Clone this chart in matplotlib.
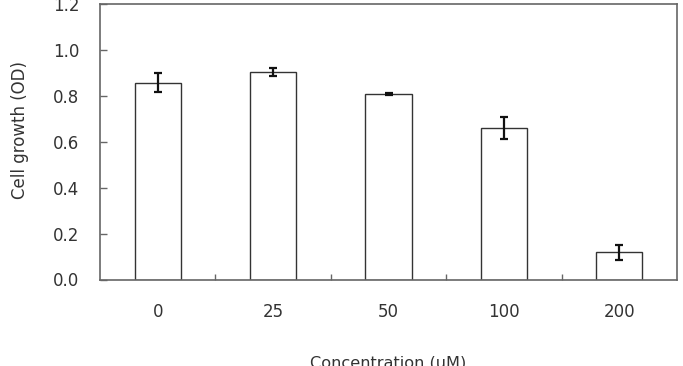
import matplotlib
matplotlib.use("Agg")
import matplotlib.pyplot as plt
import numpy as np

categories = ["0", "25", "50", "100", "200"]
values = [0.857, 0.904, 0.808, 0.661, 0.118]
errors = [0.042, 0.016, 0.006, 0.048, 0.031]
yticks = [0.0, 0.2, 0.4, 0.6, 0.8, 1.0, 1.2]

plt.rcParams['font.family'] = ['DejaVu Sans']

fig = plt.figure(figsize=(6.83, 3.66), dpi=100)
ax = fig.add_axes([100/683, 1-279.5/366, 577/683, 275.5/366])

x = np.arange(len(categories))
ax.bar(x, values, width=0.4, color="white", edgecolor="#333333", linewidth=1.0, zorder=2)
ax.errorbar(x, values, yerr=errors, fmt="none", ecolor="#111111", elinewidth=1.6,
            capsize=2.8, capthick=1.6, zorder=3)

ax.set_xlim(-0.5, len(categories) - 0.5)
ax.set_ylim(0, 1.2)
ax.set_yticks(yticks)
ax.set_yticklabels([f"{t:.1f}" for t in yticks])
ax.set_xticks(x)
ax.set_xticklabels(categories)
ax.set_xticks(np.arange(len(categories) - 1) + 0.5, minor=True)

for s in ax.spines.values():
    s.set_color("#666666")
    s.set_linewidth(1.2)

ax.tick_params(axis="x", which="major", length=0, pad=17, labelsize=12, labelcolor="#333333")
ax.tick_params(axis="x", which="minor", direction="in", length=4, color="#666666", width=1)
ax.tick_params(axis="y", direction="in", length=5, color="#666666", width=1, pad=15,
               labelsize=12, labelcolor="#333333")

ax.set_xlabel("Concentration (uM)", fontsize=11.6, color="#333333")
ax.set_ylabel("Cell growth (OD)", fontsize=12, color="#333333")
ax.xaxis.set_label_coords(0.5, (279.5 - 355) / 275.5, transform=ax.transAxes)
ax.xaxis.label.set_va("top")
ax.yaxis.set_label_coords((20 - 100) / 577, (279.5 - 130) / 275.5, transform=ax.transAxes)
ax.yaxis.label.set_va("center")

fig.savefig("out.png", dpi=100)
